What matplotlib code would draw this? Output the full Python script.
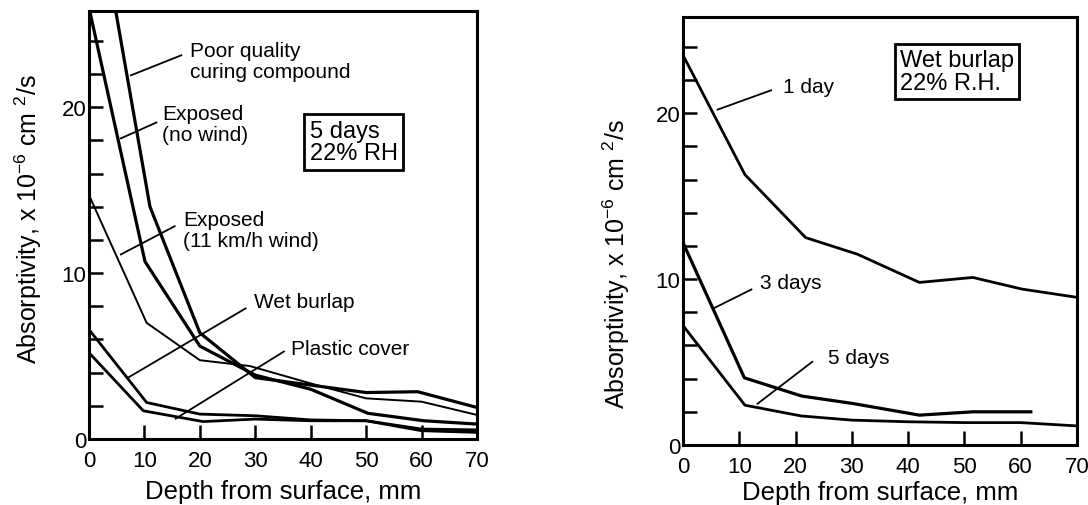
import matplotlib.pyplot as plt
from matplotlib.ticker import MultipleLocator

plt.rcParams['font.family'] = ['Liberation Sans', 'DejaVu Sans']
plt.rcParams['mathtext.fontset'] = 'custom'
plt.rcParams['mathtext.rm'] = 'Liberation Sans'
plt.rcParams['mathtext.it'] = 'Liberation Sans'

# Left panel: 5 days at 22% RH, different curing conditions
depth_poor = [0, 11, 20, 30, 40, 50, 59.3, 70]
poor_quality = [35, 14, 6.4, 3.7, 3.25, 2.8, 2.85, 1.9]

depth_nowind = [0, 10.1, 20, 30, 40, 50.3, 60.4, 70]
exposed_no_wind = [26, 10.7, 5.6, 3.85, 3.0, 1.55, 1.1, 0.9]

depth_wind = [0, 10.4, 20, 29, 40, 50, 60, 70]
exposed_wind = [14.7, 7.0, 4.75, 4.4, 3.35, 2.45, 2.25, 1.45]

depth_burlap = [0, 10.4, 20, 30, 40, 50, 60, 70]
wet_burlap = [6.6, 2.2, 1.5, 1.4, 1.15, 1.1, 0.6, 0.55]

depth_plastic = [0, 9.8, 20.6, 30, 40, 50, 60, 70]
plastic_cover = [5.2, 1.7, 1.05, 1.2, 1.1, 1.1, 0.5, 0.4]

# Right panel: wet burlap at 22% R.H., different curing times
depth_1d = [0, 11, 21.8, 31, 42, 51.5, 60.2, 70]
day_1 = [23.5, 16.3, 12.5, 11.5, 9.8, 10.1, 9.4, 8.9]

depth_3d = [0, 10.9, 21.1, 30.2, 42, 51.5, 61.8]
day_3 = [12.2, 4.05, 2.95, 2.5, 1.8, 2.0, 2.0]

depth_5d = [0, 11, 21, 30, 40, 50, 60, 70]
day_5 = [7.2, 2.4, 1.75, 1.5, 1.4, 1.35, 1.35, 1.15]

xticks = [0, 10, 20, 30, 40, 50, 60, 70]
ylab = r'Absorptivity, x 10$^{-6}$ cm $^{2}$/s'
xlab = 'Depth from surface, mm'

fig = plt.figure(figsize=(10.88, 5.06), dpi=100)
ax1 = fig.add_axes([89 / 1088, 66 / 506, 388 / 1088, 428 / 506])
ax2 = fig.add_axes([683 / 1088, 60 / 506, 394 / 1088, 428 / 506])


def style_axes(ax, ylx, yly, xpad):
    ax.set_xlim(0, 70)
    ax.set_ylim(0, 25.8)
    ax.set_xticks(xticks)
    ax.set_yticks([0, 10, 20])
    ax.yaxis.set_minor_locator(MultipleLocator(2))
    ax.tick_params(axis='both', direction='in', length=10, width=1.8,
                   labelsize=16)
    ax.tick_params(axis='x', pad=8)
    ax.tick_params(axis='y', pad=2)
    ax.tick_params(axis='y', which='minor', direction='in', length=10,
                   width=1.8)
    for sp in ax.spines.values():
        sp.set_linewidth(2.2)
    ax.set_xlabel(xlab, fontsize=18.5, labelpad=xpad)
    ax.set_ylabel(ylab, fontsize=18)
    ax.yaxis.set_label_coords(ylx, yly)


def leader(ax, start, end):
    ax.plot([start[0], end[0]], [start[1], end[1]], color='black', lw=1.3,
            solid_capstyle='butt')


# left panel
ax1.plot(depth_poor, poor_quality, color='black', lw=2.3)
ax1.plot(depth_nowind, exposed_no_wind, color='black', lw=2.3)
ax1.plot(depth_wind, exposed_wind, color='black', lw=1.4)
ax1.plot(depth_burlap, wet_burlap, color='black', lw=2.0)
ax1.plot(depth_plastic, plastic_cover, color='black', lw=2.0)
style_axes(ax1, -0.115, 0.517, 6)

note = dict(fontsize=15, va='center', ha='left', linespacing=1.1)
ax1.text(18.3, 22.8, 'Poor quality\ncuring compound', **note)
leader(ax1, (7.4, 21.9), (16.8, 23.15))
ax1.text(13.2, 19.0, 'Exposed\n(no wind)', **note)
leader(ax1, (5.6, 18.1), (12.3, 19.1))
ax1.text(17.0, 12.6, 'Exposed\n(11 km/h wind)', **note)
leader(ax1, (5.6, 11.1), (15.6, 12.85))
ax1.text(29.7, 8.3, 'Wet burlap', **note)
leader(ax1, (7.05, 3.7), (28.4, 7.9))
ax1.text(36.5, 5.45, 'Plastic cover', **note)
leader(ax1, (15.5, 1.2), (35.3, 5.3))
ax1.text(39.8, 17.9, '5 days\n22% RH', fontsize=17, va='center', ha='left',
         linespacing=1.05,
         bbox=dict(boxstyle='square,pad=0.22', fc='white', ec='black', lw=2))

# right panel
ax2.plot(depth_1d, day_1, color='black', lw=2.0)
ax2.plot(depth_3d, day_3, color='black', lw=2.3)
ax2.plot(depth_5d, day_5, color='black', lw=2.0)
style_axes(ax2, -0.13, 0.426, 2)

ax2.text(17.8, 21.6, '1 day', **note)
leader(ax2, (6.0, 20.2), (15.8, 21.4))
ax2.text(13.7, 9.8, '3 days', **note)
leader(ax2, (5.2, 8.2), (12.3, 9.4))
ax2.text(25.8, 5.3, '5 days', **note)
leader(ax2, (13.1, 2.45), (23.1, 5.05))
ax2.text(38.5, 22.5, 'Wet burlap\n22% R.H.', fontsize=17, va='center',
         ha='left', linespacing=1.05,
         bbox=dict(boxstyle='square,pad=0.22', fc='white', ec='black', lw=2))

fig.savefig('out.png', dpi=100, facecolor='white')
